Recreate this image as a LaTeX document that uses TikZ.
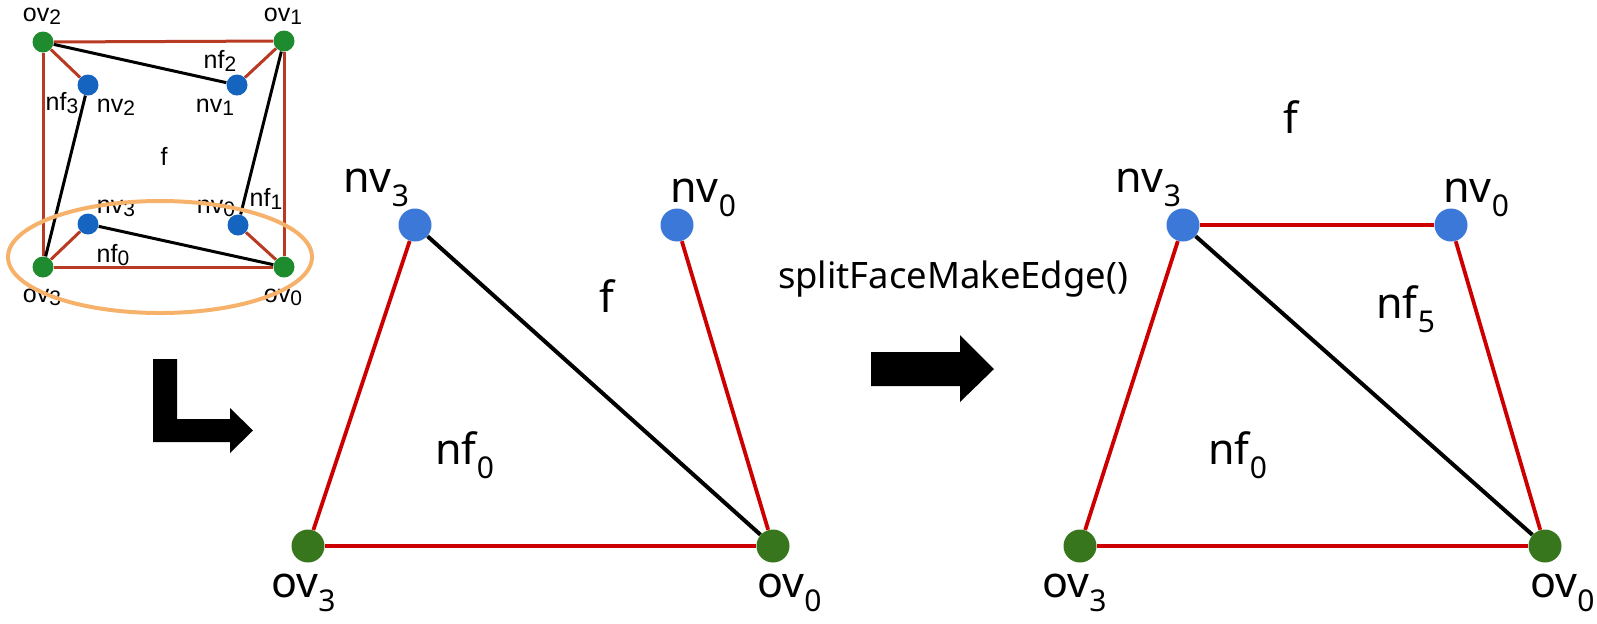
\documentclass[tikz,border=0pt]{standalone}
\usepackage{fontspec}
\setmainfont{Noto Sans}
\newfontfamily\smallfont{Liberation Sans}
\definecolor{nvblue}{HTML}{3C78D8}
\definecolor{ovgreen}{HTML}{38761D}
\definecolor{edgered}{HTML}{CC0000}
\definecolor{sblue}{HTML}{1565C0}
\definecolor{sgreen}{HTML}{1E8B2E}
\definecolor{sred}{HTML}{B83A22}
\definecolor{lensorange}{HTML}{F6B26B}
\newcommand{\bsub}[1]{\raisebox{-7pt}{\fontsize{15}{18}\selectfont #1}}
\newcommand{\ssub}[1]{\raisebox{-1.5pt}{\fontsize{10.5}{12}\selectfont #1}}
\begin{document}
\begin{tikzpicture}[x=0.5pt, y=-0.5pt,
  bigdot/.style={circle, inner sep=0pt, minimum size=16.5pt},
  nvdot/.style={bigdot, fill=nvblue},
  ovdot/.style={bigdot, fill=ovgreen},
  tinydot/.style={circle, inner sep=0pt, minimum size=10.5pt},
  redge/.style={draw=edgered, line width=1.9pt},
  bedge/.style={draw=black, line width=2pt},
  sredge/.style={draw=sred, line width=1.5pt},
  sbedge/.style={draw=black, line width=1.5pt},
  biglabel/.style={font=\fontsize{21.5}{26}\selectfont, inner sep=0pt, anchor=base west},
  tinylabel/.style={font=\smallfont\fontsize{12.5}{15}\selectfont, inner sep=0pt, anchor=base}]
  \useasboundingbox (0,0) rectangle (1597,623);
  % Small overview: the whole face f
  \node[tinydot, fill=sgreen] (sov2) at (43,42) {};
  \node[tinydot, fill=sgreen] (sov1) at (284,41) {};
  \node[tinydot, fill=sgreen] (sov3) at (43,267) {};
  \node[tinydot, fill=sgreen] (sov0) at (284,267) {};
  \node[tinydot, fill=sblue] (snv2) at (88,85) {};
  \node[tinydot, fill=sblue] (snv1) at (237,85) {};
  \node[tinydot, fill=sblue] (snv3) at (88,224) {};
  \node[tinydot, fill=sblue] (snv0) at (238,225) {};
  \draw[sredge] (sov2) -- (sov1);
  \draw[sredge] (sov1) -- (sov0);
  \draw[sredge] (sov0) -- (sov3);
  \draw[sredge] (sov3) -- (sov2);
  \draw[sredge] (sov2) -- (snv2);
  \draw[sredge] (sov1) -- (snv1);
  \draw[sredge] (sov3) -- (snv3);
  \draw[sredge] (sov0) -- (snv0);
  \draw[sbedge] (sov2) -- (snv1);
  \draw[sbedge] (sov1) -- (snv0);
  \draw[sbedge] (sov0) -- (snv3);
  \draw[sbedge] (sov3) -- (snv2);
  \node[tinylabel] (sov2l) at (42,21) {ov\ssub{2}};
  \node[tinylabel] (sov1l) at (283,21) {ov\ssub{1}};
  \node[tinylabel] (snf2l) at (220,68) {nf\ssub{2}};
  \node[tinylabel] (snf3l) at (62,110) {nf\ssub{3}};
  \node[tinylabel] (snv2l) at (116,112) {nv\ssub{2}};
  \node[tinylabel] (snv1l) at (215,112) {nv\ssub{1}};
  \node[tinylabel] (sfl) at (164,165) {f};
  \node[tinylabel] (snv3l) at (116,213) {nv\ssub{3}};
  \node[tinylabel] (snv0l) at (216,213) {nv\ssub{0}};
  \node[tinylabel] (snf1l) at (266,206) {nf\ssub{1}};
  \node[tinylabel] (snf0l) at (113,262) {nf\ssub{0}};
  \node[tinylabel] (sov3l) at (42,302) {ov\ssub{3}};
  \node[tinylabel] (sov0l) at (283,302) {ov\ssub{0}};
  \draw[lensorange, line width=2pt] (160,257) ellipse [x radius=152, y radius=56];
  % Zoom arrow
  \fill (153,359) -- (177,359) -- (177,419) -- (230,419) -- (230,408) -- (253,430.5)
    -- (230,453) -- (230,442) -- (153,442) -- cycle;
  % Before: face with nv3 and nv0
  \node[nvdot] (mnv3) at (415,225) {};
  \node[nvdot] (mnv0) at (677,225) {};
  \node[ovdot] (mov3) at (308,546) {};
  \node[ovdot] (mov0) at (773,546) {};
  \draw[redge] (mnv3) -- (mov3);
  \draw[redge] (mov3) -- (mov0);
  \draw[redge] (mov0) -- (mnv0);
  \draw[bedge] (mnv3) -- (mov0);
  \node[biglabel] (mnv3l) at (343,192) {nv\bsub{3}};
  \node[biglabel] (mnv0l) at (670,202) {nv\bsub{0}};
  \node[biglabel] (mfl) at (599,312) {f};
  \node[biglabel] (mnf0l) at (435,464) {nf\bsub{0}};
  \node[biglabel] (mov3l) at (271,597) {ov\bsub{3}};
  \node[biglabel] (mov0l) at (757,597) {ov\bsub{0}};
  % Operation
  \node[font=\fontsize{18.2}{22}\selectfont, inner sep=0pt, anchor=base] (op) at (953,288) {splitFaceMakeEdge()};
  \fill (871,352) -- (960,352) -- (960,335) -- (994,369) -- (960,402) -- (960,386)
    -- (871,386) -- cycle;
  % After: new face nf5
  \node[nvdot] (rnv3) at (1183,225) {};
  \node[nvdot] (rnv0) at (1451,225) {};
  \node[ovdot] (rov3) at (1080,546) {};
  \node[ovdot] (rov0) at (1545,546) {};
  \draw[redge] (rnv3) -- (rnv0);
  \draw[redge] (rnv0) -- (rov0);
  \draw[redge] (rov0) -- (rov3);
  \draw[redge] (rov3) -- (rnv3);
  \draw[bedge] (rnv3) -- (rov0);
  \node[biglabel] (rfl) at (1283,133) {f};
  \node[biglabel] (rnv3l) at (1115,192) {nv\bsub{3}};
  \node[biglabel] (rnv0l) at (1443,202) {nv\bsub{0}};
  \node[biglabel] (rnf5l) at (1376,318) {nf\bsub{5}};
  \node[biglabel] (rnf0l) at (1208,464) {nf\bsub{0}};
  \node[biglabel] (rov3l) at (1042,597) {ov\bsub{3}};
  \node[biglabel] (rov0l) at (1530,597) {ov\bsub{0}};
\end{tikzpicture}
\end{document}
